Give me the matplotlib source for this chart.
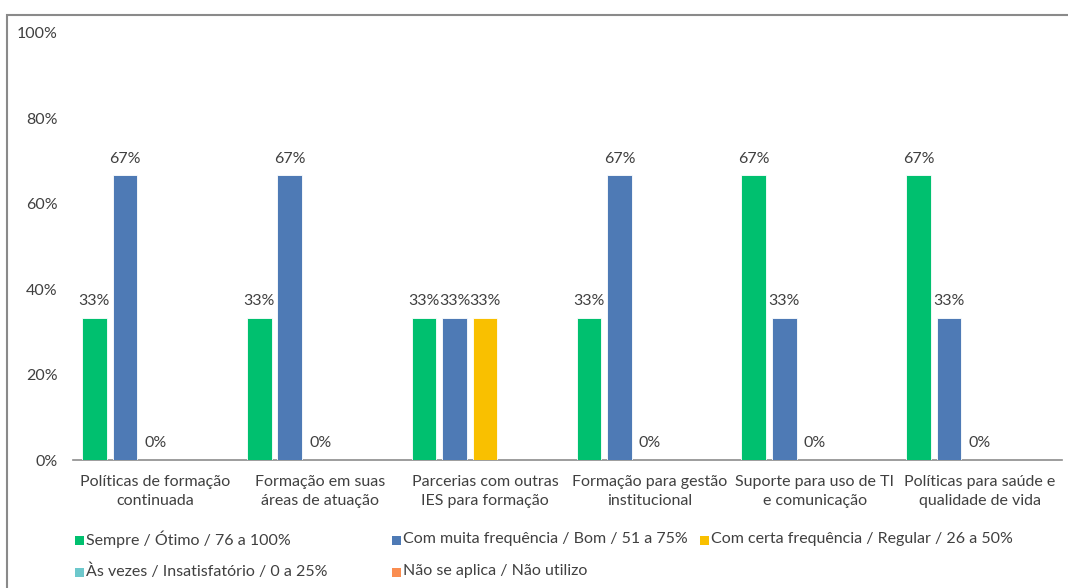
import matplotlib
matplotlib.use("Agg")
import matplotlib.pyplot as plt
import numpy as np
from matplotlib.patches import Rectangle

plt.rcParams['font.family'] = ['Lato', 'DejaVu Sans']

categories = ["Políticas de formação\ncontinuada", "Formação em suas\náreas de atuação",
              "Parcerias com outras\nIES para formação", "Formação para gestão\ninstitucional",
              "Suporte para uso de TI\ne comunicação", "Políticas para saúde e\nqualidade de vida"]
series_names = ["Sempre / Ótimo / 76 a 100%", "Com muita frequência / Bom / 51 a 75%",
                "Com certa frequência / Regular / 26 a 50%", "Às vezes / Insatisfatório / 0 a 25%",
                "Não se aplica / Não utilizo"]
sempre = [0.333, 0.333, 0.333, 0.333, 0.667, 0.667]
muita = [0.667, 0.667, 0.333, 0.667, 0.333, 0.333]
certa = [0.0, 0.0, 0.333, 0.0, 0.0, 0.0]
as_vezes = [np.nan] * 6
nao_aplica = [np.nan] * 6
yticks = [0, 0.2, 0.4, 0.6, 0.8, 1.0]
ytick_labels = ["0%", "20%", "40%", "60%", "80%", "100%"]

colors = ["#00C06F", "#4E7AB5", "#F9C000", "#6DC8CC", "#FA8D50"]
series = [sempre, muita, certa, as_vezes, nao_aplica]
text_color = "#404040"
fs = 11.5

W, H = 1068, 588
fig = plt.figure(figsize=(W / 100, H / 100), dpi=100)
ax = fig.add_axes([73 / W, 1 - 460 / H, (1062 - 73) / W, (460 - 33) / H])

x = np.arange(len(categories))
step = 0.185
width = 0.149
for j, (vals, col) in enumerate(zip(series, colors)):
    pos = x + (j - 2) * step
    bars = ax.bar(pos, vals, width=width, color=col, edgecolor="white", linewidth=0.6, zorder=3)
    for b, v in zip(bars, vals):
        if np.isnan(v):
            continue
        ax.annotate(f"{v:.0%}", (b.get_x() + b.get_width() / 2, v), xytext=(0, 12),
                    textcoords="offset points", ha="center", va="center",
                    fontsize=fs, color=text_color)

ax.set_xlim(-0.5, len(categories) - 0.5)
ax.set_ylim(0, 1)
ax.set_yticks(yticks)
ax.set_yticklabels(ytick_labels)
ax.set_xticks(x)
ax.set_xticklabels(categories, linespacing=1.45)
ax.tick_params(axis='y', length=0, pad=11, labelsize=fs, labelcolor=text_color)
ax.tick_params(axis='x', length=0, pad=11, labelsize=fs, labelcolor=text_color)
for s in ["top", "right", "left"]:
    ax.spines[s].set_visible(False)
ax.spines["bottom"].set_color("#8C8C8C")
ax.spines["bottom"].set_linewidth(1.2)

# legend (manual layout to match Excel's fixed column widths)
leg_pos = [(75, 540), (392, 540), (700, 540), (75, 572), (392, 572)]
for (lx, ly), name, col in zip(leg_pos, series_names, colors):
    fig.patches.append(Rectangle((lx / W, 1 - (ly + 4.5) / H), 9 / W, 9 / H,
                                 transform=fig.transFigure, facecolor=col, edgecolor="none"))
    fig.text((lx + 11) / W, 1 - (ly - 1) / H, name, ha="left", va="center",
             fontsize=fs, color=text_color)

# outer border of chart area
fig.patches.append(Rectangle((7 / W, -0.05), 1.1, 1 - 15 / H + 0.05, transform=fig.transFigure,
                             facecolor="none", edgecolor="#8A8A8A", linewidth=1.5, clip_on=False))

fig.savefig("out.png", dpi=100)
